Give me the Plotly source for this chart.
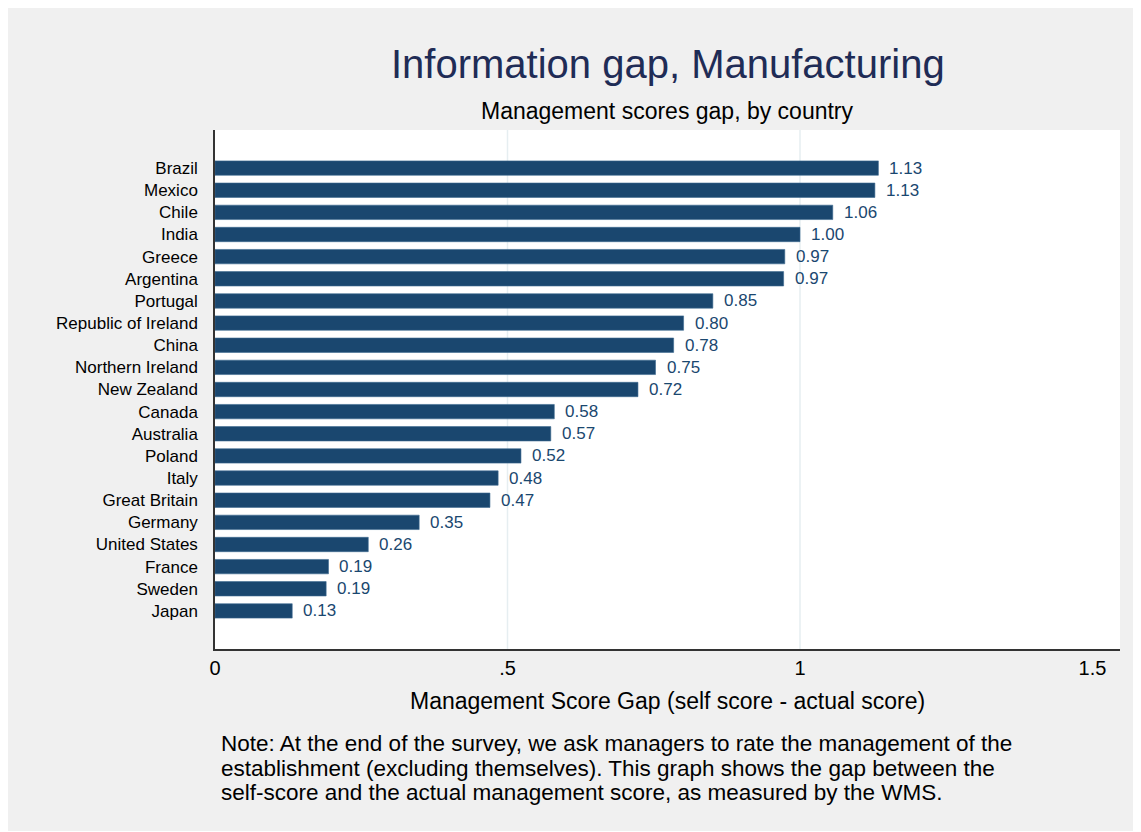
import plotly.graph_objects as go

# data
countries = ["Brazil", "Mexico", "Chile", "India", "Greece", "Argentina", "Portugal",
             "Republic of Ireland", "China", "Northern Ireland", "New Zealand", "Canada",
             "Australia", "Poland", "Italy", "Great Britain", "Germany", "United States",
             "France", "Sweden", "Japan"]
gap = [1.134, 1.128, 1.056, 1.000, 0.974, 0.972, 0.851, 0.801, 0.784, 0.753, 0.723, 0.580,
       0.574, 0.523, 0.484, 0.470, 0.349, 0.262, 0.194, 0.190, 0.132]
tick_vals = [0, 0.5, 1, 1.5]
tick_text = ["0", ".5", "1", "1.5"]
grid_vals = [0.5, 1]

title = "Information gap, Manufacturing"
subtitle = "Management scores gap, by country"
x_title = "Management Score Gap (self score - actual score)"
note_lines = [
    "Note: At the end of the survey, we ask managers to rate the management of the",
    "establishment (excluding themselves). This graph shows the gap between the",
    "self-score and the actual management score, as measured by the WMS.",
]

FONT = "Liberation Sans, Arial, Helvetica, sans-serif"
NAVY = "#1a476f"
BG = "#f0f0f0"

# page body has an 8px margin, so the figure sits at (8, 8)
OFF = 8
W, H = 1134 - OFF, 831 - OFF
L, R, T, B = 215 - OFF, 1120 - OFF, 130 - OFF, 649 - OFF   # plot area in figure pixels


def px_x(p):
    return (p - OFF - L) / (R - L)


def px_y(p):
    return (B - (p - OFF)) / (B - T)


fig = go.Figure()

fig.add_trace(go.Bar(
    x=gap, y=countries, orientation="h",
    marker=dict(color=NAVY, line=dict(color="#3d6a90", width=0.6)),
    width=0.65, hoverinfo="x+y", showlegend=False,
))

# value labels next to each bar
for c, v in zip(countries, gap):
    fig.add_annotation(x=v, y=c, xref="x", yref="y", text=f"{v:.2f}",
                       showarrow=False, xanchor="left", xshift=9,
                       font=dict(family=FONT, size=17, color=NAVY))

# gridlines (Stata leaves out the one on the edge)
for g in grid_vals:
    fig.add_shape(type="line", x0=g, x1=g, y0=0, y1=1, xref="x", yref="paper",
                  line=dict(color="#e6eef1", width=1.5), layer="below")

fig.add_annotation(text=title, x=0.5, y=px_y(64), xref="paper", yref="paper",
                   showarrow=False, yanchor="middle",
                   font=dict(family=FONT, size=40, color="#1f2c56"))
fig.add_annotation(text=subtitle, x=0.5, y=px_y(111), xref="paper", yref="paper",
                   showarrow=False, yanchor="middle",
                   font=dict(family=FONT, size=23, color="black"))
fig.add_annotation(text=x_title, x=0.5, y=px_y(701), xref="paper", yref="paper",
                   showarrow=False, yanchor="middle",
                   font=dict(family=FONT, size=23, color="black"))
for i, line in enumerate(note_lines):
    fig.add_annotation(text=line, x=px_x(220), y=px_y(743 + 25 * i), xref="paper", yref="paper",
                       showarrow=False, xanchor="left", yanchor="middle", borderpad=0,
                       font=dict(family=FONT, size=22.5, color="black"))

n = len(countries)
fig.update_layout(
    width=W, height=H,
    margin=dict(l=L, r=W - R, t=T, b=H - B, pad=0),
    paper_bgcolor=BG,
    plot_bgcolor="white",
    font=dict(family=FONT, color="black"),
)
fig.update_xaxes(range=[0, (R - L) / 585], tickvals=tick_vals, ticktext=tick_text,
                 showgrid=False, zeroline=False, showline=True, linecolor="#333333", linewidth=1.5,
                 ticks="",
                 tickfont=dict(family=FONT, size=20, color="black"), fixedrange=True)
fig.update_yaxes(categoryorder="array", categoryarray=countries,
                 range=[n - 1 + 1.72, -1.72],
                 showgrid=False, zeroline=False, showline=True, linecolor="#333333", linewidth=1.5,
                 ticks="outside", ticklen=12, tickcolor="rgba(0,0,0,0)",
                 tickfont=dict(family=FONT, size=17, color="black"), fixedrange=True)

fig.write_html("out.html")
